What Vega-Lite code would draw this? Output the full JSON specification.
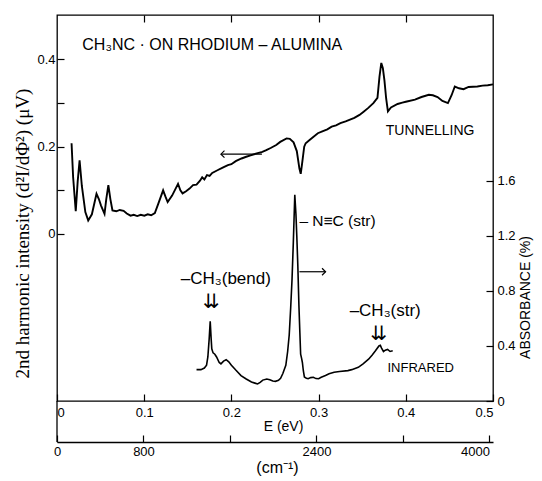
{
  "$schema": "https://vega.github.io/schema/vega-lite/v6.json",
  "width": 436,
  "height": 386,
  "autosize": {"type": "none"},
  "padding": {"left": 57, "top": 15, "right": 49, "bottom": 80},
  "background": "white",
  "config": {
    "view": {"stroke": "black", "strokeWidth": 1.3},
    "axis": {
      "labelColor": "black", "tickColor": "black", "domainColor": "black", "titleColor": "black",
      "labelFont": "Liberation Sans", "titleFont": "Liberation Sans", "labelFontSize": 13,
      "titleFontWeight": "normal", "grid": false, "tickWidth": 1.2, "domainWidth": 1.3
    },
    "text": {"font": "Liberation Sans", "fontSize": 13, "color": "black"}
  },
  "datasets": {
    "tunnel": [
      {"e":0.0167,"u":0.208},{"e":0.0185,"u":0.13},{"e":0.0215,"u":0.052},{"e":0.0237,"u":0.12},{"e":0.0259,"u":0.169},
      {"e":0.0285,"u":0.11},{"e":0.0325,"u":0.05},{"e":0.0358,"u":0.031},{"e":0.040,"u":0.045},{"e":0.0453,"u":0.092},
      {"e":0.048,"u":0.08},{"e":0.0505,"u":0.065},{"e":0.0545,"u":0.046},{"e":0.0565,"u":0.08},{"e":0.0589,"u":0.112},
      {"e":0.0612,"u":0.08},{"e":0.0636,"u":0.054},{"e":0.068,"u":0.052},{"e":0.072,"u":0.055},{"e":0.0764,"u":0.053},
      {"e":0.080,"u":0.047},{"e":0.0843,"u":0.042},{"e":0.088,"u":0.044},{"e":0.092,"u":0.041},{"e":0.096,"u":0.044},
      {"e":0.1002,"u":0.042},{"e":0.104,"u":0.045},{"e":0.108,"u":0.043},{"e":0.1122,"u":0.048},{"e":0.1161,"u":0.069},
      {"e":0.1217,"u":0.100},{"e":0.1245,"u":0.085},{"e":0.1269,"u":0.073},{"e":0.132,"u":0.088},{"e":0.1388,"u":0.115},
      {"e":0.1415,"u":0.1},{"e":0.144,"u":0.093},{"e":0.148,"u":0.098},{"e":0.152,"u":0.104},{"e":0.156,"u":0.112},
      {"e":0.16,"u":0.113},{"e":0.164,"u":0.122},{"e":0.1665,"u":0.13},{"e":0.169,"u":0.125},{"e":0.172,"u":0.135},
      {"e":0.175,"u":0.133},{"e":0.178,"u":0.14},{"e":0.184,"u":0.146},{"e":0.19,"u":0.152},{"e":0.196,"u":0.158},
      {"e":0.2,"u":0.16},{"e":0.205,"u":0.167},{"e":0.2116,"u":0.173},{"e":0.217,"u":0.177},{"e":0.222,"u":0.18},
      {"e":0.228,"u":0.184},{"e":0.2355,"u":0.188},{"e":0.24,"u":0.192},{"e":0.245,"u":0.197},{"e":0.2514,"u":0.204},
      {"e":0.256,"u":0.211},{"e":0.2633,"u":0.219},{"e":0.267,"u":0.218},{"e":0.2713,"u":0.21},{"e":0.275,"u":0.19},
      {"e":0.278,"u":0.15},{"e":0.2795,"u":0.138},{"e":0.281,"u":0.16},{"e":0.2835,"u":0.2},{"e":0.2852,"u":0.208},
      {"e":0.29,"u":0.216},{"e":0.2991,"u":0.231},{"e":0.305,"u":0.236},{"e":0.31,"u":0.24},{"e":0.315,"u":0.246},
      {"e":0.32,"u":0.249},{"e":0.325,"u":0.254},{"e":0.331,"u":0.258},{"e":0.336,"u":0.262},{"e":0.341,"u":0.266},
      {"e":0.3469,"u":0.273},{"e":0.352,"u":0.281},{"e":0.357,"u":0.289},{"e":0.3628,"u":0.300},{"e":0.3675,"u":0.312},
      {"e":0.3698,"u":0.36},{"e":0.3719,"u":0.392},{"e":0.3737,"u":0.38},{"e":0.3755,"u":0.352},{"e":0.3775,"u":0.31},
      {"e":0.3795,"u":0.281},{"e":0.383,"u":0.29},{"e":0.3906,"u":0.298},{"e":0.396,"u":0.301},{"e":0.4,"u":0.303},
      {"e":0.4105,"u":0.308},{"e":0.418,"u":0.314},{"e":0.4264,"u":0.319},{"e":0.431,"u":0.318},{"e":0.4364,"u":0.314},
      {"e":0.442,"u":0.305},{"e":0.4483,"u":0.300},{"e":0.4525,"u":0.318},{"e":0.4562,"u":0.338},{"e":0.461,"u":0.334},
      {"e":0.4662,"u":0.332},{"e":0.472,"u":0.337},{"e":0.4821,"u":0.338},{"e":0.488,"u":0.340},{"e":0.494,"u":0.341},
      {"e":0.5,"u":0.343}
    ],
    "ir": [
      {"e":0.160,"a":0.228},{"e":0.165,"a":0.228},{"e":0.169,"a":0.24},{"e":0.1715,"a":0.26},{"e":0.173,"a":0.32},
      {"e":0.1745,"a":0.45},{"e":0.1757,"a":0.58},{"e":0.1768,"a":0.45},{"e":0.1775,"a":0.38},{"e":0.179,"a":0.35},
      {"e":0.181,"a":0.34},{"e":0.183,"a":0.32},{"e":0.186,"a":0.28},{"e":0.188,"a":0.27},{"e":0.191,"a":0.29},
      {"e":0.194,"a":0.30},{"e":0.197,"a":0.285},{"e":0.2,"a":0.26},{"e":0.205,"a":0.225},{"e":0.211,"a":0.185},
      {"e":0.217,"a":0.16},{"e":0.223,"a":0.138},{"e":0.227,"a":0.13},{"e":0.230,"a":0.124},{"e":0.233,"a":0.135},
      {"e":0.236,"a":0.152},{"e":0.2406,"a":0.16},{"e":0.244,"a":0.155},{"e":0.2475,"a":0.146},{"e":0.2505,"a":0.143},
      {"e":0.254,"a":0.15},{"e":0.2564,"a":0.165},{"e":0.259,"a":0.2},{"e":0.2624,"a":0.26},{"e":0.2645,"a":0.36},
      {"e":0.2663,"a":0.48},{"e":0.268,"a":0.68},{"e":0.2695,"a":0.88},{"e":0.271,"a":1.15},{"e":0.2727,"a":1.50},
      {"e":0.274,"a":1.36},{"e":0.275,"a":1.2},{"e":0.2762,"a":0.98},{"e":0.2774,"a":0.70},{"e":0.2785,"a":0.5},
      {"e":0.2794,"a":0.34},{"e":0.2805,"a":0.31},{"e":0.2814,"a":0.28},{"e":0.2825,"a":0.22},{"e":0.2837,"a":0.175},
      {"e":0.286,"a":0.165},{"e":0.288,"a":0.162},{"e":0.291,"a":0.17},{"e":0.294,"a":0.173},{"e":0.297,"a":0.163},
      {"e":0.300,"a":0.162},{"e":0.303,"a":0.172},{"e":0.3079,"a":0.185},{"e":0.312,"a":0.198},{"e":0.3178,"a":0.209},
      {"e":0.324,"a":0.214},{"e":0.3336,"a":0.221},{"e":0.338,"a":0.228},{"e":0.3455,"a":0.245},{"e":0.351,"a":0.27},
      {"e":0.3573,"a":0.304},{"e":0.3615,"a":0.335},{"e":0.3652,"a":0.365},{"e":0.3692,"a":0.40},{"e":0.3708,"a":0.405},
      {"e":0.3722,"a":0.385},{"e":0.3744,"a":0.36},{"e":0.3765,"a":0.37},{"e":0.3791,"a":0.375},{"e":0.382,"a":0.36},
      {"e":0.385,"a":0.365}
    ],
    "labelsU": [
      {"e":0.029,"u":0.433,"t":"CH₃NC · ON RHODIUM – ALUMINA"},
      {"e":0.377,"u":0.236,"t":"TUNNELLING"}
    ],
    "labelsA": [
      {"e":0.278,"a":1.31,"t":"– N≡C (str)"},
      {"e":0.142,"a":0.89,"t":"–CH₃(bend)"},
      {"e":0.3356,"a":0.655,"t":"–CH₃(str)"},
      {"e":0.379,"a":0.24,"t":"INFRARED"}
    ],
    "dbl": [
      {"e":0.177,"a":0.72,"t":"⇊"},
      {"e":0.369,"a":0.49,"t":"⇊"}
    ],
    "arrowU": [{"e":0.188,"e2":0.235,"u":0.183}],
    "arrowA": [{"e":0.278,"e2":0.308,"a":0.94}],
    "stub": [{"e":0,"a":0,"a2":-0.298}],
    "cm": [{"c":0},{"c":800},{"c":1600},{"c":2400},{"c":3200},{"c":4000}]
  },
  "layer": [
    {
      "layer": [
        {
          "data": {"name": "tunnel"},
          "mark": {"type": "line", "color": "black", "strokeWidth": 1.9},
          "encoding": {
            "x": {"field": "e", "type": "quantitative", "scale": {"domain": [0, 0.5], "nice": false},
              "axis": {"orient": "bottom", "values": [0, 0.1, 0.2, 0.3, 0.4, 0.5], "format": ".1~f", "tickSize": -7, "labelPadding": 12,
                "labelFlush": true, "title": "E (eV)", "titleFontSize": 14, "titleX": 226, "titleY": 25,
                "titleAlign": "center", "titleBaseline": "middle", "domain": false}},
            "y": {"field": "u", "type": "quantitative", "scale": {"domain": [-0.383, 0.502], "nice": false, "zero": false},
              "axis": {"orient": "left", "values": [0, 0.1, 0.2, 0.3, 0.4], "format": ".1~f", "tickSize": -7, "labelPadding": 9,
                "labelExpr": "datum.value === 0.1 || datum.value === 0.3 ? '' : datum.label",
                "title": "2nd harmonic intensity (d²I/dΦ²) (μV)", "titleFont": "Liberation Serif", "titleFontSize": 19,
                "titleAngle": -90, "titleX": -35, "titleY": 218, "titleAlign": "center", "titleBaseline": "middle", "domain": false}}
          }
        },
        {
          "data": {"name": "labelsU"},
          "mark": {"type": "text", "align": "left", "baseline": "middle"},
          "encoding": {
            "x": {"field": "e", "type": "quantitative"},
            "y": {"field": "u", "type": "quantitative"},
            "text": {"field": "t"},
            "size": {"condition": {"test": "datum.t === 'TUNNELLING'", "value": 14}, "value": 16}
          }
        },
        {
          "data": {"name": "arrowU"},
          "mark": {"type": "rule", "color": "black", "strokeWidth": 1.2},
          "encoding": {
            "x": {"field": "e", "type": "quantitative"},
            "x2": {"field": "e2"},
            "y": {"field": "u", "type": "quantitative"}
          }
        },
        {
          "data": {"name": "arrowU"},
          "mark": {"type": "point", "shape": "M1,-1L0,0L1,1", "filled": false, "color": "black", "strokeWidth": 1.2, "size": 50, "opacity": 1},
          "encoding": {
            "x": {"field": "e", "type": "quantitative"},
            "y": {"field": "u", "type": "quantitative"}
          }
        }
      ]
    },
    {
      "layer": [
        {
          "data": {"name": "ir"},
          "mark": {"type": "line", "color": "black", "strokeWidth": 1.6},
          "encoding": {
            "x": {"field": "e", "type": "quantitative", "scale": {"domain": [0, 0.5], "nice": false},
              "axis": {"orient": "top", "values": [0.1, 0.2, 0.3, 0.4], "tickSize": -7, "labels": false, "title": null, "domain": false}},
            "y": {"field": "a", "type": "quantitative", "scale": {"domain": [0, 2.807], "nice": false},
              "axis": {"orient": "right", "values": [0, 0.4, 0.8, 1.2, 1.6], "format": ".1~f", "tickSize": -7, "labelPadding": 11,
                "title": "ABSORBANCE (%)", "titleFontSize": 14, "titleAngle": -90, "titleX": 32, "titleY": 282,
                "titleAlign": "center", "titleBaseline": "middle", "domain": false}}
          }
        },
        {
          "data": {"name": "labelsA"},
          "mark": {"type": "text", "align": "left", "baseline": "middle"},
          "encoding": {
            "x": {"field": "e", "type": "quantitative"},
            "y": {"field": "a", "type": "quantitative"},
            "text": {"field": "t"},
            "size": {"condition": [
              {"test": "datum.t === 'INFRARED'", "value": 13},
              {"test": "indexof(datum.t, 'CH') >= 0", "value": 17}
            ], "value": 15.5}
          }
        },
        {
          "data": {"name": "dbl"},
          "mark": {"type": "text", "align": "center", "baseline": "middle", "fontSize": 20, "font": "DejaVu Sans"},
          "encoding": {
            "x": {"field": "e", "type": "quantitative"},
            "y": {"field": "a", "type": "quantitative"},
            "text": {"field": "t"}
          }
        },
        {
          "data": {"name": "arrowA"},
          "mark": {"type": "rule", "color": "black", "strokeWidth": 1.2},
          "encoding": {
            "x": {"field": "e", "type": "quantitative"},
            "x2": {"field": "e2"},
            "y": {"field": "a", "type": "quantitative"}
          }
        },
        {
          "data": {"name": "arrowA"},
          "mark": {"type": "point", "shape": "M-1,-1L0,0L-1,1", "filled": false, "color": "black", "strokeWidth": 1.2, "size": 50, "opacity": 1},
          "encoding": {
            "x": {"field": "e2", "type": "quantitative"},
            "y": {"field": "a", "type": "quantitative"}
          }
        },
        {
          "data": {"name": "stub"},
          "mark": {"type": "rule", "color": "black", "strokeWidth": 1.3},
          "encoding": {
            "x": {"field": "e", "type": "quantitative"},
            "y": {"field": "a", "type": "quantitative"},
            "y2": {"field": "a2"}
          }
        }
      ]
    },
    {
      "data": {"name": "cm"},
      "mark": {"type": "point", "opacity": 0},
      "encoding": {
        "x": {"field": "c", "type": "quantitative", "scale": {"domain": [0, 4033], "nice": false},
          "axis": {"orient": "bottom", "offset": 41, "values": [0, 800, 1600, 2400, 3200, 4000], "format": "d",
            "labelExpr": "datum.value === 1600 || datum.value === 3200 ? '' : datum.label",
            "labelAlign": {"condition": {"test": "datum.value === 4000", "value": "right"}, "value": "center"},
            "tickSize": -7, "labelPadding": 10, "labelFlush": true,
            "title": "(cm⁻¹)", "titleFontSize": 16, "titleX": 220, "titleY": 25,
            "titleAlign": "center", "titleBaseline": "middle"}}
      }
    }
  ],
  "resolve": {"scale": {"x": "independent", "y": "independent"}}
}
